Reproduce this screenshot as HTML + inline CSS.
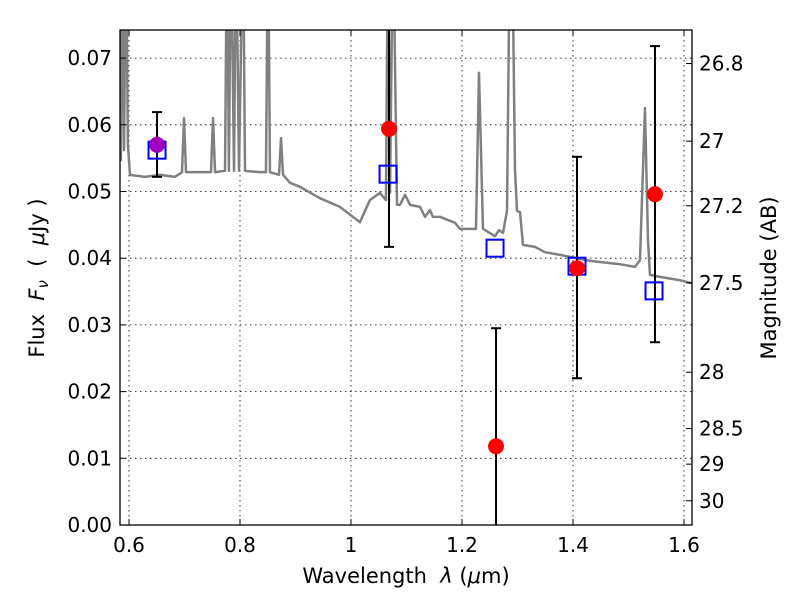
<!DOCTYPE html>
<html><head><meta charset="utf-8"><style>
body{margin:0;background:#fff;}
svg{display:block;font-family:"DejaVu Sans","Liberation Sans",sans-serif;}
</style></head><body>
<svg id="chart" width="800" height="600" xmlns="http://www.w3.org/2000/svg">
<defs><clipPath id="clip"><rect x="120" y="30" width="572" height="495"/></clipPath></defs>
<rect x="0" y="0" width="800" height="600" fill="#fff"/>
<g id="grid"></g>
<g id="plot" clip-path="url(#clip)"></g>
<rect x="120" y="30" width="572" height="495" fill="none" stroke="#000" stroke-width="1.3"/>
<g id="axes"></g>
<text x="406" y="583" font-size="21" text-anchor="middle">Wavelength&#160;&#160;<tspan font-style="italic">λ</tspan> (<tspan font-style="italic">μ</tspan>m)</text>
<text transform="translate(44,278) rotate(-90)" font-size="21" text-anchor="middle">Flux&#160;&#160;<tspan font-style="italic">F<tspan font-size="15" dy="4">ν</tspan></tspan><tspan dy="-4">&#160;&#160;(&#160;&#160;</tspan><tspan font-style="italic">μ</tspan>Jy )</text>
<text transform="translate(776,278) rotate(-90)" font-size="21" text-anchor="middle">Magnitude (AB)</text>
</svg>
<script>
const specLam=[0.584,0.5854,0.5874,0.591,0.5946,0.598,0.6018,0.6288,0.6559,0.6829,0.6955,0.6991,0.7027,0.7279,0.7477,0.7514,0.755,0.773,0.7766,0.780,0.7838,0.7892,0.7928,0.7982,0.8054,0.809,0.836,0.8468,0.8505,0.854,0.8703,0.8739,0.8775,0.890,0.908,0.944,0.980,1.016,1.034,1.052,1.063,1.0667,1.0703,1.0757,1.0829,1.0883,1.0973,1.1063,1.1243,1.1333,1.1423,1.1477,1.1604,1.1874,1.1964,1.2054,1.2252,1.2306,1.2378,1.2595,1.2667,1.2739,1.2811,1.2865,1.2901,1.2955,1.2991,1.3045,1.3099,1.3315,1.3495,1.3766,1.3946,1.4306,1.4847,1.5117,1.5207,1.5297,1.5351,1.5387,1.5568,1.5928,1.6108,1.62];
const specFlux=[0.0547,0.0547,0.09,0.0562,0.09,0.0570,0.0525,0.0522,0.0525,0.0522,0.0529,0.0610,0.0529,0.0529,0.0529,0.0610,0.0529,0.0531,0.09,0.0531,0.09,0.0531,0.09,0.0531,0.09,0.0531,0.0529,0.0529,0.09,0.0529,0.0525,0.0580,0.0525,0.0513,0.0507,0.0490,0.0477,0.0454,0.0487,0.0498,0.0487,0.09,0.0498,0.09,0.0480,0.0480,0.0495,0.0480,0.0477,0.0462,0.0472,0.0462,0.0462,0.0453,0.0444,0.0444,0.0444,0.0678,0.0444,0.0433,0.0442,0.0438,0.0471,0.09,0.09,0.0532,0.0471,0.0469,0.0420,0.0417,0.0409,0.0405,0.0402,0.0396,0.0391,0.0387,0.0397,0.0625,0.0427,0.0375,0.0372,0.0367,0.0363,0.0362];
const detLam=[0.6505,1.0685,1.2613,1.4072,1.5477];
const detFlux=[0.0570,0.0594,0.0118,0.0385,0.0496];
const errLo=[0.0522,0.0417,-0.01,0.0220,0.0274];
const errHi=[0.0619,0.09,0.0295,0.0552,0.0718];
const modLam=[0.6505,1.0667,1.2595,1.4072,1.546];
const modFlux=[0.0562,0.0526,0.0415,0.0388,0.0351];
const xTicks=[0.6,0.8,1,1.2,1.4,1.6];
const xTickLabels=["0.6","0.8","1","1.2","1.4","1.6"];
const yTicks=[0,0.01,0.02,0.03,0.04,0.05,0.06,0.07];
const yTickLabels=["0.00","0.01","0.02","0.03","0.04","0.05","0.06","0.07"];
const magTicks=[26.8,27,27.2,27.5,28,28.5,29,30];
const magTickLabels=["26.8","27","27.2","27.5","28","28.5","29","30"];

const NS="http://www.w3.org/2000/svg";
const X=l=>129+(l-0.6)*555;
const Y=f=>525-f*6670;
const magToFlux=m=>Math.pow(10,(23.9-m)/2.5);
function mk(parent,tag,attrs){const e=document.createElementNS(NS,tag);for(const k in attrs)e.setAttribute(k,attrs[k]);parent.appendChild(e);return e;}
const grid=document.getElementById('grid'),plot=document.getElementById('plot'),axes=document.getElementById('axes');

xTicks.forEach((t,i)=>{
  const g=mk(grid,'line',{x1:X(t),x2:X(t),y1:30,y2:525,stroke:'#000','stroke-width':0.8,'stroke-dasharray':'1.5,3.5'});
  
  
  mk(axes,'line',{x1:X(t),x2:X(t),y1:525,y2:519,stroke:'#000'});
  mk(axes,'line',{x1:X(t),x2:X(t),y1:30,y2:36,stroke:'#000'});
  const tx=mk(axes,'text',{x:X(t),y:552,'font-size':20,'text-anchor':'middle'});tx.textContent=xTickLabels[i];
  
  
});
yTicks.forEach((t,i)=>{
  const g=mk(grid,'line',{x1:120,x2:692,y1:Y(t),y2:Y(t),stroke:'#000','stroke-width':0.8,'stroke-dasharray':'1.5,3.5'});
  
  
  mk(axes,'line',{x1:120,x2:126,y1:Y(t),y2:Y(t),stroke:'#000'});
  const tx=mk(axes,'text',{x:112,y:Y(t)+7,'font-size':20,'text-anchor':'end'});tx.textContent=yTickLabels[i];
  
  
});
magTicks.forEach((m,i)=>{
  const y=Y(magToFlux(m));
  mk(axes,'line',{x1:686,x2:692,y1:y,y2:y,stroke:'#000'});
  const tx=mk(axes,'text',{x:699,y:y+7,'font-size':20});tx.textContent=magTickLabels[i];
  
  
});

const sp=mk(plot,'polyline',{points:specLam.map((l,i)=>X(l)+','+Y(specFlux[i])).join(' '),fill:'none',stroke:'#808080','stroke-width':2.5,'stroke-linejoin':'round'});



detLam.forEach((l,i)=>{
  const x=X(l);
  const e=mk(plot,'g',{});
  
  
  mk(e,'line',{x1:x,x2:x,y1:Y(errLo[i]),y2:Y(errHi[i]),stroke:'#000','stroke-width':2});
  mk(e,'line',{x1:x-5,x2:x+5,y1:Y(errLo[i]),y2:Y(errLo[i]),stroke:'#000','stroke-width':2});
  mk(e,'line',{x1:x-5,x2:x+5,y1:Y(errHi[i]),y2:Y(errHi[i]),stroke:'#000','stroke-width':2});
});
modLam.forEach((l,i)=>{
  const s=mk(plot,'rect',{x:X(l)-8.5,y:Y(modFlux[i])-8.5,width:17,height:17,fill:'none',stroke:'#0000ff','stroke-width':2});
  
  
});
detLam.forEach((l,i)=>{
  const c=mk(plot,'circle',{cx:X(l),cy:Y(detFlux[i]),r:8,fill:i===0?'#a000c0':'#ff0000'});
  
  
});
</script>
</body></html>
